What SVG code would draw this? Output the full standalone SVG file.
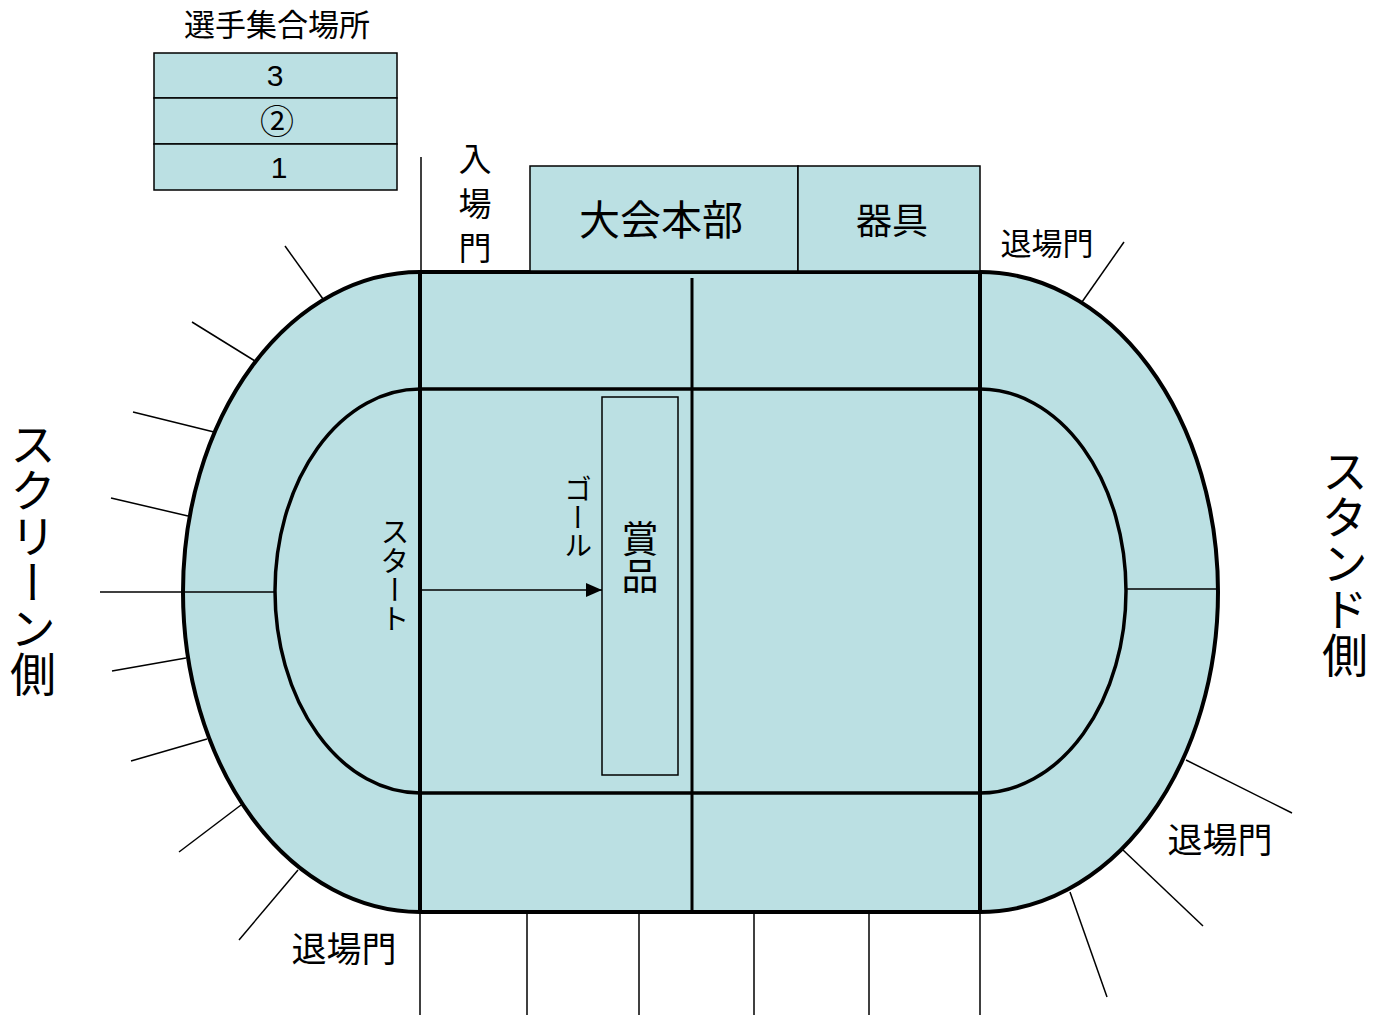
<svg xmlns="http://www.w3.org/2000/svg" width="1387" height="1015" viewBox="0 0 1387 1015">
<style>
  .fill { fill: #BBE0E3; }
  .box { fill: #BBE0E3; stroke: #000; stroke-width: 1.5; }
  .thin { stroke: #000; stroke-width: 1.5; fill: none; }
  .thick { stroke: #000; stroke-width: 4; fill: none; }
  .mid { stroke: #000; stroke-width: 3; fill: none; }
  .jp { font-family: "Noto Sans CJK JP", "Noto Sans", sans-serif; fill: #000; }
  .num { font-family: "Liberation Sans", "Noto Sans CJK JP", sans-serif; fill: #000; }
  .vert { writing-mode: vertical-rl; }
</style>
<defs>
  <marker id="arrow" markerWidth="16" markerHeight="14" refX="16" refY="7" orient="auto" markerUnits="userSpaceOnUse" viewBox="0 0 16 14">
    <path d="M0,0 L16,7 L0,14 Z" fill="#000"/>
  </marker>
</defs>
<rect width="1387" height="1015" fill="#fff"/>

<g id="assembly-area">
  <text class="jp" x="277" y="36" font-size="31" text-anchor="middle">選手集合場所</text>
  <rect class="box" x="154" y="53" width="243" height="45"/>
  <rect class="box" x="154" y="98" width="243" height="46"/>
  <rect class="box" x="154" y="144" width="243" height="46"/>
  <text class="num" x="275" y="86" font-size="30" text-anchor="middle">3</text>
  <text class="jp" x="277" y="134" font-size="34" text-anchor="middle">②</text>
  <text class="num" x="279" y="178" font-size="30" text-anchor="middle">1</text>
</g>

<g id="track">
  <path class="fill" d="M420,272 H980 A238,320 0 0 1 980,912 H420 A237,320 0 0 1 420,272 Z" stroke="#000" stroke-width="4"/>
  <path class="fill" d="M420,389 H980 A146,202 0 0 1 980,793 H420 A145,202 0 0 1 420,389 Z" stroke="#000" stroke-width="3.5"/>
  <line class="thick" x1="420" y1="272" x2="420" y2="912"/>
  <line class="thick" x1="980" y1="272" x2="980" y2="912"/>
  <line class="mid" x1="692" y1="278" x2="692" y2="912"/>
  <line class="thin" x1="183" y1="592" x2="275" y2="592"/>
  <line class="thin" x1="1126" y1="589" x2="1218" y2="589"/>
</g>

<g id="hq">
  <rect class="box" x="530" y="166" width="268" height="105"/>
  <text class="jp" x="661" y="235" font-size="41" text-anchor="middle">大会本部</text>
</g>

<g id="equipment">
  <rect class="box" x="798" y="166" width="182" height="105"/>
  <text class="jp" x="892" y="234" font-size="36" text-anchor="middle">器具</text>
</g>

<g id="prize">
  <rect class="box" x="602" y="397" width="76" height="378"/>
  <text class="jp vert" x="640" y="520" font-size="37">賞品</text>
</g>

<g id="labels">
  <text class="jp" x="475" y="171" font-size="33" text-anchor="middle">入</text>
  <text class="jp" x="475" y="216" font-size="33" text-anchor="middle">場</text>
  <text class="jp" x="475" y="260" font-size="33" text-anchor="middle">門</text>
  <text class="jp" x="1047" y="255" font-size="31" text-anchor="middle">退場門</text>
  <text class="jp" x="1220" y="853" font-size="35" text-anchor="middle">退場門</text>
  <text class="jp" x="344" y="962" font-size="35" text-anchor="middle">退場門</text>
  <text class="jp vert" x="395" y="517" font-size="29">スタート</text>
  <text class="jp vert" x="578" y="475" font-size="28">ゴール</text>
  <text class="jp vert" x="33" y="421" font-size="46">スクリーン側</text>
  <text class="jp vert" x="1345" y="448" font-size="46">スタンド側</text>
</g>

<g id="connectors">
  <line class="thin" x1="421" y1="157" x2="421" y2="272"/>
  <line class="thin" x1="285" y1="246" x2="323" y2="299"/>
  <line class="thin" x1="192" y1="322" x2="255" y2="361"/>
  <line class="thin" x1="133" y1="412" x2="214" y2="432"/>
  <line class="thin" x1="111" y1="498" x2="188" y2="516"/>
  <line class="thin" x1="100" y1="592" x2="183" y2="592"/>
  <line class="thin" x1="112" y1="671" x2="186" y2="658"/>
  <line class="thin" x1="131" y1="761" x2="207" y2="739"/>
  <line class="thin" x1="179" y1="852" x2="241" y2="805"/>
  <line class="thin" x1="239" y1="940" x2="298" y2="870"/>
  <line class="thin" x1="1082" y1="302" x2="1124" y2="242"/>
  <line class="thin" x1="1186" y1="760" x2="1292" y2="813"/>
  <line class="thin" x1="1123" y1="850" x2="1203" y2="926"/>
  <line class="thin" x1="1070" y1="892" x2="1107" y2="997"/>
  <line class="thin" x1="420" y1="912" x2="420" y2="1015"/>
  <line class="thin" x1="527" y1="912" x2="527" y2="1015"/>
  <line class="thin" x1="639" y1="912" x2="639" y2="1015"/>
  <line class="thin" x1="754" y1="912" x2="754" y2="1015"/>
  <line class="thin" x1="869" y1="912" x2="869" y2="1015"/>
  <line class="thin" x1="980" y1="912" x2="980" y2="1015"/>
  <line class="thin" x1="422" y1="590" x2="602" y2="590" marker-end="url(#arrow)"/>
</g>
</svg>
